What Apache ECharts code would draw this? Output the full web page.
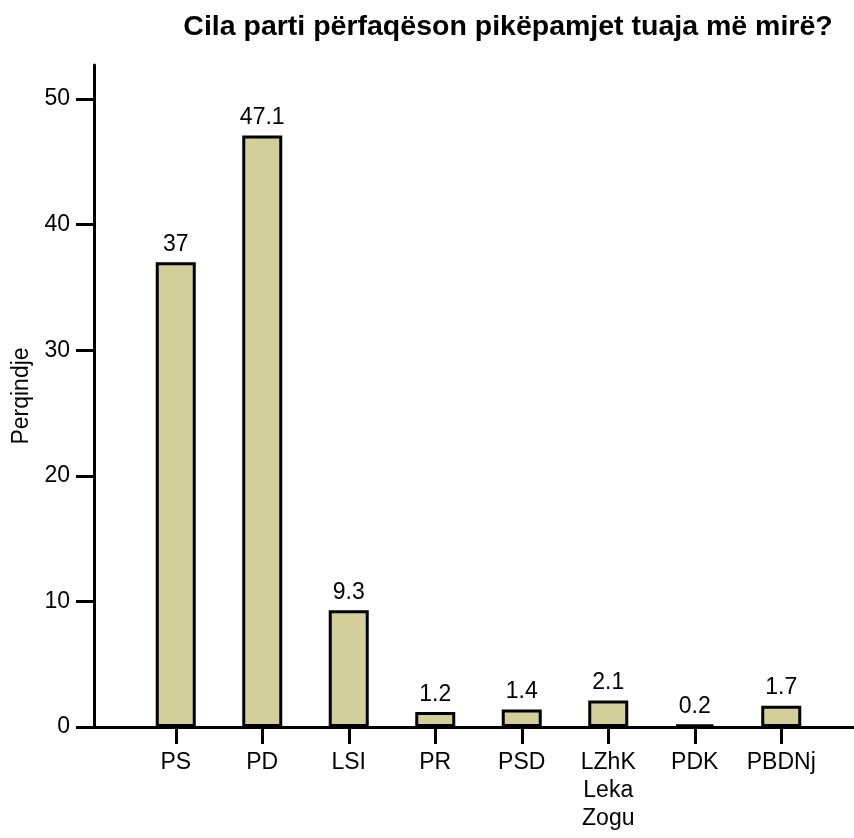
<!DOCTYPE html>
<html>
<head>
<meta charset="utf-8">
<script src="https://cdn.jsdelivr.net/npm/echarts@6/dist/echarts.min.js"></script>
<style>
html,body{margin:0;padding:0;background:#fff;}
#chart{width:854px;height:838px;}
</style>
</head>
<body>
<div id="chart"></div>
<script>
const titleText = 'Cila parti përfaqëson pikëpamjet tuaja më mirë?';
const yAxisName = 'Perqindje';
const categories = ['PS', 'PD', 'LSI', 'PR', 'PSD', 'LZhK\nLeka\nZogu', 'PDK', 'PBDNj'];
const values = [37, 47.1, 9.3, 1.2, 1.4, 2.1, 0.2, 1.7];
const yTicks = [0, 10, 20, 30, 40, 50];

const FONT = '"Liberation Sans", Arial, Helvetica, sans-serif';
const chart = echarts.init(document.getElementById('chart'), null, {renderer: 'canvas'});

chart.setOption({
  animation: false,
  backgroundColor: '#ffffff',
  title: {
    text: titleText,
    left: 503,
    textAlign: 'center',
    top: 8,
    textStyle: {fontFamily: FONT, fontSize: 28.5, fontWeight: 'bold', color: '#000'}
  },
  grid: [
    {left: 132.5, right: 29.5, top: 99, bottom: 111, containLabel: false},
    {left: 94, right: 0, top: 65, bottom: 111, containLabel: false}
  ],
  xAxis: [
    {
      type: 'category', gridIndex: 0, data: categories,
      axisLine: {show: false},
      axisTick: {show: true, alignWithLabel: true, length: 17, lineStyle: {color: '#000', width: 3}},
      axisLabel: {fontFamily: FONT, fontSize: 23, color: '#000', margin: 22, lineHeight: 28, interval: 0},
      splitLine: {show: false}
    },
    {
      type: 'value', gridIndex: 1, min: 0, max: 1,
      axisLine: {show: true, lineStyle: {color: '#000', width: 3}},
      axisTick: {show: false}, axisLabel: {show: false}, splitLine: {show: false}
    }
  ],
  yAxis: [
    {
      type: 'value', gridIndex: 0, min: yTicks[0], max: yTicks[yTicks.length - 1], interval: 10,
      offset: 38.5,
      axisLine: {show: false},
      axisTick: {show: true, length: 18, lineStyle: {color: '#000', width: 3}},
      axisLabel: {fontFamily: FONT, fontSize: 23, color: '#000', margin: 24},
      splitLine: {show: false}
    },
    {
      type: 'value', gridIndex: 1, min: 0, max: 1,
      name: yAxisName, nameLocation: 'middle', nameGap: 61, nameRotate: 90,
      nameTextStyle: {fontFamily: FONT, fontSize: 23, color: '#000'},
      axisLine: {show: true, lineStyle: {color: '#000', width: 3}},
      axisTick: {show: false}, axisLabel: {show: false}, splitLine: {show: false}
    }
  ],
  series: [{
    type: 'bar', xAxisIndex: 0, yAxisIndex: 0,
    data: values,
    barWidth: 40,
    itemStyle: {color: '#D3CF9B', borderColor: '#000', borderWidth: 3},
    label: {show: true, position: 'top', distance: 6, fontFamily: FONT, fontSize: 23, color: '#000'}
  }]
});
</script>
</body>
</html>
